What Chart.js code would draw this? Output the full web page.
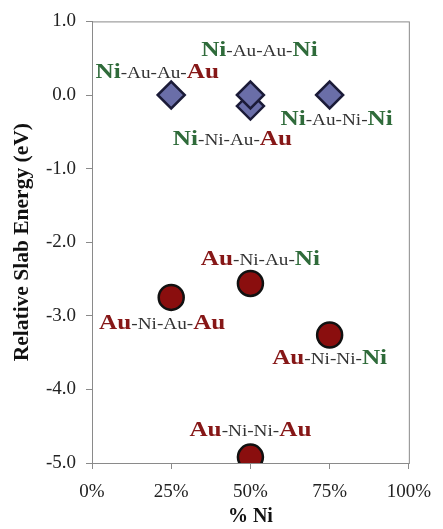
<!DOCTYPE html>
<html>
<head>
<meta charset="utf-8">
<script src="https://cdn.jsdelivr.net/npm/chart.js@4.4.1/dist/chart.umd.min.js"></script>
<style>
  html, body { margin: 0; padding: 0; background: #fff; }
  #wrap { width: 443px; height: 529px; }
</style>
</head>
<body>
<div id="wrap"><canvas id="slab" width="443" height="529"></canvas></div>
<script>
/* ── Data: % Ni vs relative slab energy (eV) ── */
// Ni-terminated slabs (diamonds); lower 50% one listed first so it sits underneath
var niPct = [25, 50, 50, 75];
var niEnergy = [0, -0.15, 0, 0];
var niNames = ['Ni-Au-Au-Au', 'Ni-Ni-Au-Au', 'Ni-Au-Au-Ni', 'Ni-Au-Ni-Ni'];

// Au-terminated slabs (circles)
var auPct = [25, 50, 75, 50];
var auEnergy = [-2.75, -2.56, -3.26, -4.92];
var auNames = ['Au-Ni-Au-Au', 'Au-Ni-Au-Ni', 'Au-Ni-Ni-Ni', 'Au-Ni-Ni-Au'];

var yTicks = [1, 0, -1, -2, -3, -4, -5];
var xTicks = [0, 25, 50, 75, 100];

/* ── Label placement (px offsets from each marker) ── */
var niOffsets = [[-14, -24], [-18, 32], [9, -46], [7, 23]];
var auOffsets = [[-9, 25], [10, -25], [0, 22], [0, -28]];

var GREEN = '#2f6b3a';
var RED = '#861717';
var GREY = '#333';
var SERIF = '"Liberation Serif", "Times New Roman", serif';

function toPoints(xs, ys) {
  return xs.map(function(x, i) { return { x: x, y: ys[i] }; });
}

/* ── Rich label: bold coloured end atoms, small grey middle ── */
function drawRich(ctx, name, cx, cy) {
  var parts = name.split('-');
  var segs = [];
  parts.forEach(function(p, i) {
    var end = (i === 0 || i === parts.length - 1);
    if (i > 0) segs.push({ t: '-', f: '16px ' + SERIF, c: GREY });
    segs.push({
      t: p,
      f: end ? 'bold 21px ' + SERIF : '16px ' + SERIF,
      c: end ? (p === 'Ni' ? GREEN : RED) : GREY
    });
  });
  var stretch = 1.2;
  var w = 0;
  segs.forEach(function(s) { ctx.font = s.f; s.w = ctx.measureText(s.t).width; w += s.w; });
  ctx.save();
  ctx.translate(cx, cy + 7);
  ctx.scale(stretch, 1);
  ctx.textBaseline = 'alphabetic';
  ctx.textAlign = 'left';
  var x = -w / 2;
  segs.forEach(function(s) {
    ctx.font = s.f;
    ctx.fillStyle = s.c;
    ctx.fillText(s.t, x, 0);
    x += s.w;
  });
  ctx.restore();
}

var richLabels = {
  id: 'richLabels',
  afterDatasetsDraw: function(chart) {
    var ctx = chart.ctx;
    chart.data.datasets.forEach(function(ds, di) {
      var meta = chart.getDatasetMeta(di);
      meta.data.forEach(function(pt, i) {
        var off = ds.offsets[i];
        drawRich(ctx, ds.names[i], pt.x + off[0], pt.y + off[1]);
      });
    });
  }
};

var frame = {
  id: 'frame',
  beforeDatasetsDraw: function(chart) {
    var a = chart.chartArea, ctx = chart.ctx;
    ctx.save();
    ctx.strokeStyle = '#8a8a8a';
    ctx.lineWidth = 1;
    ctx.strokeRect(a.left + 0.5, a.top + 0.5, a.right - a.left, a.bottom - a.top);
    ctx.restore();
  }
};

new Chart(document.getElementById('slab'), {
  type: 'scatter',
  data: {
    datasets: [
      {
        data: toPoints(niPct, niEnergy),
        names: niNames,
        offsets: niOffsets,
        pointStyle: 'rectRot',
        pointRadius: 13.5,
        pointHoverRadius: 13.5,
        backgroundColor: '#6a6ea8',
        borderColor: '#1b1b38',
        borderWidth: 2.5
      },
      {
        data: toPoints(auPct, auEnergy),
        names: auNames,
        offsets: auOffsets,
        pointStyle: 'circle',
        pointRadius: 12.5,
        pointHoverRadius: 12.5,
        backgroundColor: '#8a0e0e',
        borderColor: '#111',
        borderWidth: 2.5
      }
    ]
  },
  options: {
    responsive: false,
    animation: false,
    devicePixelRatio: 1,
    layout: { padding: { top: 20, right: 28, left: 0, bottom: 0 } },
    plugins: { legend: { display: false }, tooltip: { enabled: false } },
    scales: {
      x: {
        type: 'linear',
        min: 0,
        max: 100,
        afterFit: function(s) { s.height = 66; },
        afterBuildTicks: function(s) { s.ticks = xTicks.map(function(v) { return { value: v }; }); },
        ticks: {
          color: '#222',
          padding: 12,
          font: { family: SERIF, size: 19 },
          callback: function(v) { return v + '%'; }
        },
        grid: { drawOnChartArea: false, drawTicks: true, tickLength: 6, color: '#8a8a8a' },
        border: { color: '#8a8a8a' },
        title: {
          display: true,
          text: '% Ni',
          color: '#111',
          padding: { top: 0, bottom: 0 },
          font: { family: SERIF, size: 20, weight: 'bold' }
        }
      },
      y: {
        min: -5,
        max: 1,
        afterFit: function(s) { s.width = 92; },
        afterBuildTicks: function(s) { s.ticks = yTicks.map(function(v) { return { value: v }; }); },
        ticks: {
          color: '#222',
          padding: 10,
          font: { family: SERIF, size: 19 },
          callback: function(v) { return v.toFixed(1); }
        },
        grid: { drawOnChartArea: false, drawTicks: true, tickLength: 6, color: '#8a8a8a' },
        border: { color: '#8a8a8a' },
        title: {
          display: true,
          text: 'Relative Slab Energy (eV)',
          color: '#111',
          padding: { top: 10, bottom: 0 },
          font: { family: SERIF, size: 21.5, weight: 'bold' }
        }
      }
    }
  },
  plugins: [frame, richLabels]
});
</script>
</body>
</html>
